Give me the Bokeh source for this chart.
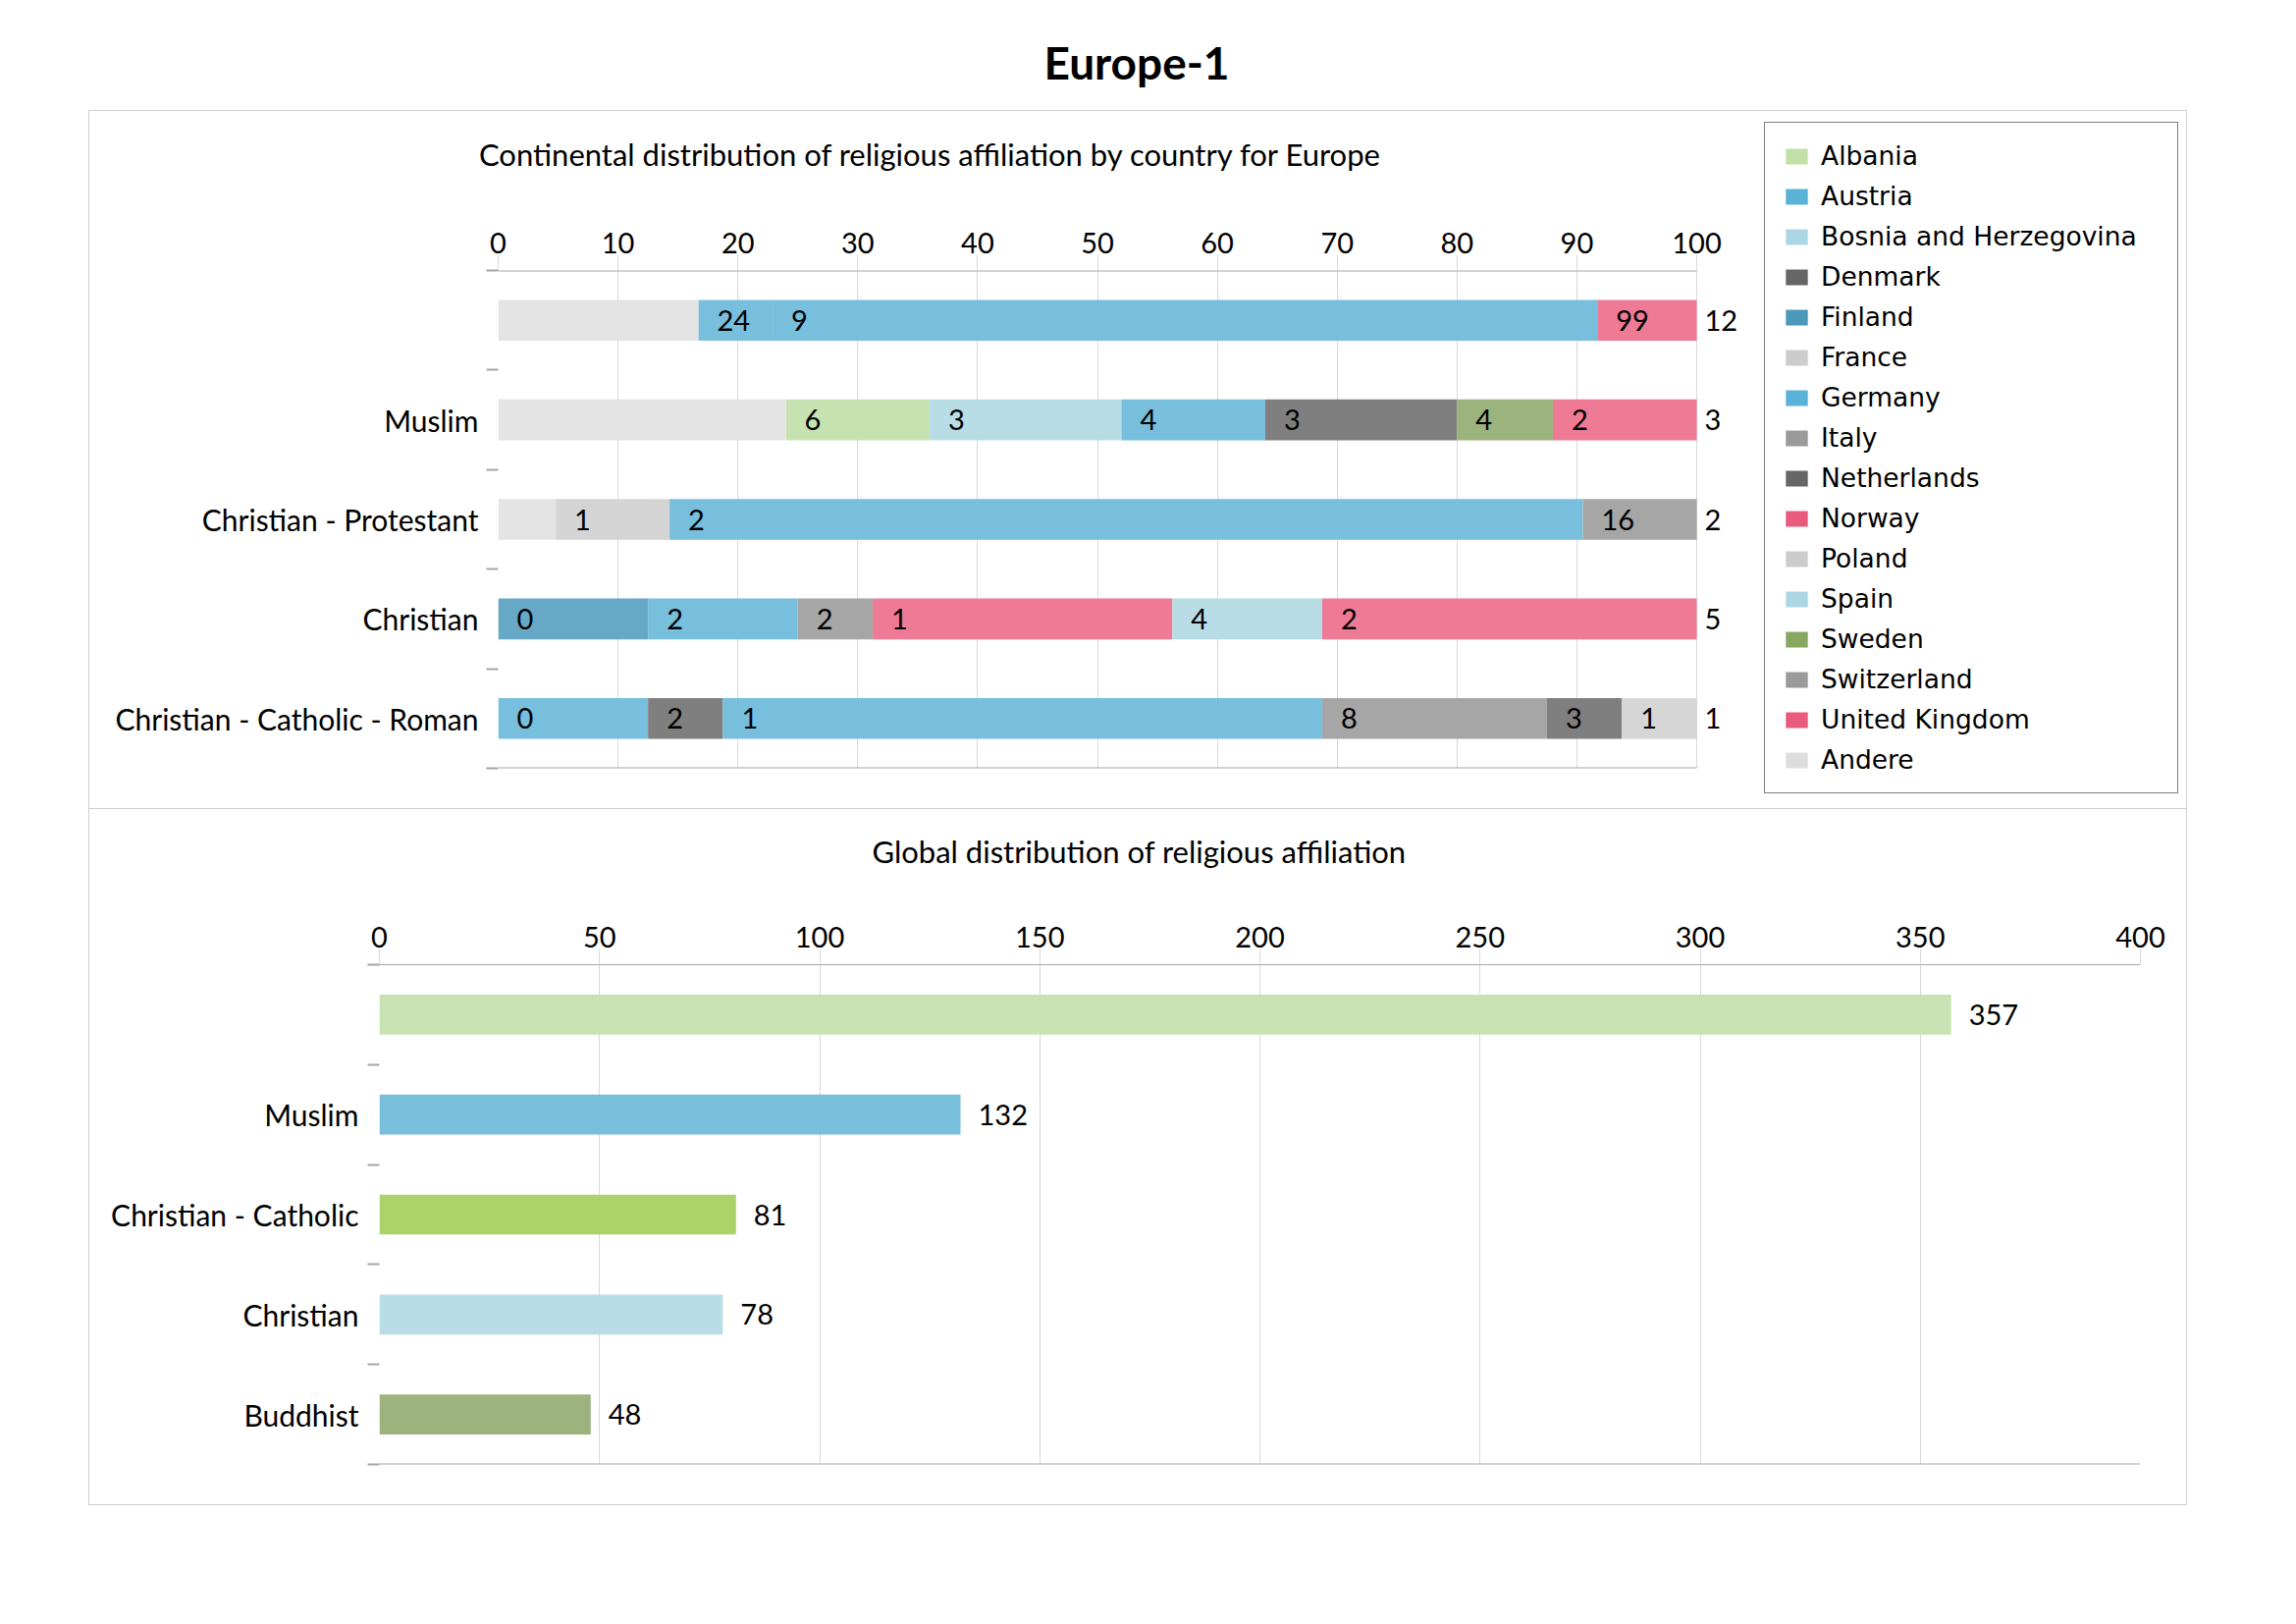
from bokeh.plotting import figure
from bokeh.models import (Range1d, FixedTicker, ColumnDataSource, Label, Legend,
                          LegendItem, Span)
from bokeh.layouts import column, row
from bokeh.embed import file_html
from bokeh.resources import INLINE
from bokeh.core.properties import value

# ---------------- data ----------------
top_categories = ["", "Muslim", "Christian - Protestant", "Christian",
                  "Christian - Catholic - Roman"]
countries = ["Albania", "Austria", "Bosnia and Herzegovina", "Denmark", "Finland",
             "France", "Germany", "Italy", "Netherlands", "Norway", "Poland", "Spain",
             "Sweden", "Switzerland", "United Kingdom", "Andere"]

row0_countries = ["Andere", "Austria", "Germany", "United Kingdom"]
row0_shares = [16.7, 6.2, 68.8, 8.3]
row0_labels = ["", "24", "9", "99"]

row1_countries = ["Andere", "Albania", "Bosnia and Herzegovina", "Germany",
                  "Netherlands", "Sweden", "United Kingdom"]
row1_shares = [24, 12, 16, 12, 16, 8, 12]
row1_labels = ["", "6", "3", "4", "3", "4", "2"]

row2_countries = ["Andere", "France", "Germany", "Switzerland"]
row2_shares = [4.8, 9.5, 76.2, 9.5]
row2_labels = ["", "1", "2", "16"]

row3_countries = ["Finland", "Germany", "Italy", "Norway", "Spain", "United Kingdom"]
row3_shares = [12.5, 12.5, 6.25, 25, 12.5, 31.25]
row3_labels = ["0", "2", "2", "1", "4", "2"]

row4_countries = ["Austria", "Denmark", "Germany", "Italy", "Netherlands", "Poland"]
row4_shares = [12.5, 6.25, 50, 18.75, 6.25, 6.25]
row4_labels = ["0", "2", "1", "8", "3", "1"]

end_labels = ["12", "3", "2", "5", "1"]
top_ticks = [0, 10, 20, 30, 40, 50, 60, 70, 80, 90, 100]

global_categories = ["", "Muslim", "Christian - Catholic", "Christian", "Buddhist"]
global_values = [357, 132, 81, 78, 48]
global_ticks = [0, 50, 100, 150, 200, 250, 300, 350, 400]

# ---------------- styles ----------------
FONT = "Lato"
FS = "29px"
CAT_FS = "30px"
SUB_FS = "31px"
GRID = "#d9d9d9"
AXIS = "#a6a6a6"
BOX = "#cfcfcf"

bar_colors = {
    "Albania": "#c6e2b1", "Austria": "#78bfdd", "Bosnia and Herzegovina": "#b8dde7",
    "Denmark": "#7f7f7f", "Finland": "#67a8c6", "France": "#d4d4d4",
    "Germany": "#78bfdd", "Italy": "#a6a6a6", "Netherlands": "#7f7f7f",
    "Norway": "#ee7a96", "Poland": "#d6d6d6", "Spain": "#b8dde7", "Sweden": "#9bb47e",
    "Switzerland": "#a6a6a6", "United Kingdom": "#ee7a96", "Andere": "#e4e4e4",
}
legend_colors = {
    "Albania": "#c0e0a8", "Austria": "#5ab3d7", "Bosnia and Herzegovina": "#acd6e3",
    "Denmark": "#666666", "Finland": "#4b98b9", "France": "#cccccc",
    "Germany": "#5ab3d7", "Italy": "#9a9a9a", "Netherlands": "#666666",
    "Norway": "#e85b7e", "Poland": "#cccccc", "Spain": "#acd6e3", "Sweden": "#88a862",
    "Switzerland": "#9a9a9a", "United Kingdom": "#e85b7e", "Andere": "#dddddd",
}
global_colors = ["#c8e3b3", "#78bfdc", "#acd26a", "#b8dde6", "#9db37e"]


def blank_fig(w, h, xr=(0, 1), yr=(0, 1)):
    f = figure(width=w, height=h, x_range=Range1d(*xr), y_range=Range1d(*yr),
               output_backend="svg", toolbar_location=None, min_border=0,
               outline_line_color=None, frame_align=False)
    f.axis.visible = False
    f.grid.visible = False
    return f


def style_value_axis(ax, ticks, show_line=True):
    ax.ticker = FixedTicker(ticks=ticks)
    ax.axis_line_color = AXIS if show_line else None
    ax.major_tick_line_color = GRID
    ax.major_tick_out = 16
    ax.major_tick_in = 0
    ax.minor_tick_line_color = None
    ax.major_label_text_font = FONT
    ax.major_label_text_font_size = FS
    ax.major_label_text_color = "black"
    ax.major_label_standoff = 2


def style_cat_axis(ax, cats, standoff):
    n = len(cats)
    centers = [i + 0.5 for i in range(n)]
    ax.ticker = FixedTicker(ticks=centers, minor_ticks=list(range(n + 1)))
    ax.major_label_overrides = {c: lab for c, lab in zip(centers, cats)}
    ax.major_tick_line_color = None
    ax.major_tick_out = 0
    ax.major_tick_in = 0
    ax.minor_tick_line_color = AXIS
    ax.minor_tick_line_width = 2
    ax.minor_tick_out = 12
    ax.minor_tick_in = 0
    ax.axis_line_color = None
    ax.major_label_standoff = standoff
    ax.major_label_text_font = FONT
    ax.major_label_text_font_size = CAT_FS
    ax.major_label_text_color = "black"


# ---------------- title strip ----------------
title_fig = blank_fig(2315, 112)
title_fig.add_layout(Label(x=0.5, y=0.4375, text="Europe-1", text_align="center",
                           text_baseline="middle", text_font=FONT, text_font_size="46px",
                           text_font_style="bold", text_color="black"))

# ---------------- top chart ----------------
n_top = len(top_categories)
CH_W, CH_L, CH_R = 1700, 416, 10
FRAME_100 = 1221                       # pixel width of 0..100 in the reference
x_end = top_ticks[-1] * (CH_W - CH_L - CH_R) / FRAME_100

sub1 = blank_fig(CH_W, 100)
sub1.add_layout(Label(x=0.504, y=0.57,
                      text="Continental distribution of religious affiliation by country for Europe",
                      text_align="center", text_baseline="middle", text_font=FONT,
                      text_font_size=SUB_FS, text_color="black"))

top = figure(width=CH_W, height=610, x_range=Range1d(0, x_end), y_range=Range1d(n_top, 0),
             x_axis_location="above", output_backend="svg", toolbar_location=None,
             min_border_left=CH_L, min_border_right=CH_R, min_border_top=62,
             min_border_bottom=41, outline_line_color=None, frame_align=False)
style_value_axis(top.xaxis[0], top_ticks, show_line=False)
style_cat_axis(top.yaxis[0], top_categories, 8)
top.xgrid.grid_line_color = GRID
top.ygrid.grid_line_color = None
# axis line and bottom line only across the 0..100 value span
top.segment(x0=[top_ticks[0], top_ticks[0]], x1=[top_ticks[-1], top_ticks[-1]],
            y0=[0, n_top], y1=[0, n_top], line_color=AXIS, line_width=2)

rows = [(row0_countries, row0_shares, row0_labels),
        (row1_countries, row1_shares, row1_labels),
        (row2_countries, row2_shares, row2_labels),
        (row3_countries, row3_shares, row3_labels),
        (row4_countries, row4_shares, row4_labels)]

segs = {c: dict(y=[], left=[], right=[]) for c in countries}
lab = dict(x=[], y=[], t=[])
end = dict(x=[], y=[], t=[])
for i, (cs, ss, ls) in enumerate(rows):
    left = 0.0
    for c, s, l in zip(cs, ss, ls):
        segs[c]["y"].append(i + 0.5)
        segs[c]["left"].append(left)
        segs[c]["right"].append(left + s)
        lab["x"].append(left)
        lab["y"].append(i + 0.5)
        lab["t"].append(l)
        left += s
    end["x"].append(left)
    end["y"].append(i + 0.5)
    end["t"].append(end_labels[i])

seg_sources = {c: ColumnDataSource(segs[c]) for c in countries}
for c in countries:
    top.hbar(y="y", left="left", right="right", height=0.41, source=seg_sources[c],
             fill_color=bar_colors[c], line_color=None)

top.text(x="x", y="y", text="t", source=ColumnDataSource(lab), x_offset=19,
         text_align="left", text_baseline="middle", text_font=value(FONT),
         text_font_size=value(FS), text_color="black")
top.text(x="x", y="y", text="t", source=ColumnDataSource(end), x_offset=8,
         text_align="left", text_baseline="middle", text_font=value(FONT),
         text_font_size=value(FS), text_color="black")

# ---------------- legend panel ----------------
# the legend figure views ranges where no bar lies, so only its legend shows
leg_fig = blank_fig(436, 710, xr=(1000, 1001), yr=(1000, 1001))
items = []
for c in countries:
    r = leg_fig.hbar(y="y", left="left", right="right", height=0.41,
                     source=seg_sources[c], fill_color=legend_colors[c],
                     line_color=None)
    items.append(LegendItem(label=c, renderers=[r]))
legend = Legend(items=items, location=(6, 15), border_line_color="black",
                border_line_width=1, background_fill_color="white",
                background_fill_alpha=1.0, label_text_font="DejaVu Sans",
                label_text_font_size="26.5px", label_text_color="black",
                glyph_width=28, glyph_height=20, label_standoff=11, padding=18,
                spacing=10, label_height=26, label_width=345, margin=0)
leg_fig.add_layout(legend)

# ---------------- bottom chart ----------------
n_bot = len(global_categories)
sub2 = blank_fig(2136, 100)
sub2.add_layout(Label(x=0.5005, y=0.58, text="Global distribution of religious affiliation",
                      text_align="center", text_baseline="middle", text_font=FONT,
                      text_font_size=SUB_FS, text_color="black"))

bot = figure(width=2136, height=608, x_range=Range1d(0, global_ticks[-1]),
             y_range=Range1d(n_bot, 0), x_axis_location="above", output_backend="svg",
             toolbar_location=None, min_border_left=295, min_border_right=47,
             min_border_top=58, min_border_bottom=41, outline_line_color=None,
             frame_align=False)
style_value_axis(bot.xaxis[0], global_ticks)
style_cat_axis(bot.yaxis[0], global_categories, 9)
bot.xgrid.grid_line_color = GRID
bot.ygrid.grid_line_color = None
bot.add_layout(Span(location=n_bot, dimension="width", line_color=AXIS, line_width=2))

gsrc = ColumnDataSource(dict(y=[i + 0.5 for i in range(n_bot)], v=global_values,
                             t=[str(v) for v in global_values], c=global_colors))
bot.hbar(y="y", left=0, right="v", height=0.40, source=gsrc, fill_color="c",
         line_color=None)
bot.text(x="v", y="y", text="t", source=gsrc, x_offset=18, text_align="left",
         text_baseline="middle", text_font=value(FONT), text_font_size=value(FS),
         text_color="black")

top_section = row(column(sub1, top), leg_fig, styles={"border-bottom": "1px solid " + BOX})
bottom_section = column(sub2, bot)
box = column(top_section, bottom_section, styles={"border": "1px solid " + BOX},
             margin=(0, 0, 0, 90))
page = column(title_fig, box)

open("out.html", "w").write(file_html(page, INLINE, title="Europe-1"))
